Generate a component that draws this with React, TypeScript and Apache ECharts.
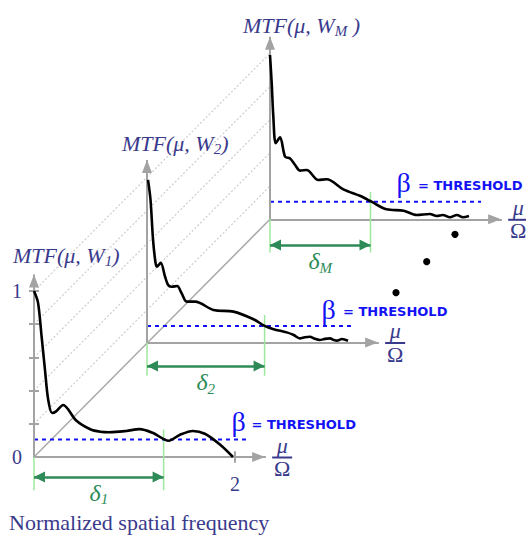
import React, { useEffect, useRef } from 'react';
import * as echarts from 'echarts';

type Pt = [number, number];

// ---------- data (x = μ/Ω normalized spatial frequency, y = MTF) ----------
const curveW1: Pt[] = [[0, 1.0], [0.04, 0.93], [0.075, 0.73], [0.11, 0.52], [0.14, 0.35], [0.18, 0.265], [0.22, 0.275], [0.29, 0.313], [0.42, 0.22], [0.56, 0.167], [0.66, 0.152], [0.75, 0.149], [0.92, 0.157], [1.05, 0.168], [1.18, 0.146], [1.34, 0.098], [1.45, 0.133], [1.58, 0.157], [1.7, 0.14], [1.85, 0.075], [1.98, 0.0]];
const curveW2: Pt[] = [[0.01, 0.98], [0.035, 0.86], [0.06, 0.62], [0.085, 0.48], [0.1, 0.457], [0.136, 0.48], [0.18, 0.396], [0.21, 0.346], [0.245, 0.336], [0.3, 0.34], [0.345, 0.296], [0.395, 0.246], [0.48, 0.246], [0.66, 0.196], [0.86, 0.186], [1.06, 0.14], [1.17, 0.1], [1.26, 0.08], [1.39, 0.061], [1.46, 0.045], [1.52, 0.025], [1.57, 0.032], [1.62, 0.035], [1.67, 0.022], [1.72, 0.015], [1.77, 0.022], [1.82, 0.025], [1.86, 0.015], [1.89, 0.011], [1.94, 0.021], [2.0, 0.011]];
const curveWM: Pt[] = [[0, 0.99], [0.017, 0.82], [0.033, 0.62], [0.057, 0.458], [0.1, 0.494], [0.15, 0.377], [0.2, 0.367], [0.25, 0.327], [0.3, 0.293], [0.365, 0.297], [0.48, 0.237], [0.564, 0.241], [0.73, 0.18], [0.9, 0.14], [1.01, 0.106], [1.16, 0.06], [1.33, 0.052], [1.46, 0.026], [1.59, 0.032], [1.66, 0.02], [1.72, 0.026], [1.79, 0.012], [1.86, 0.026], [1.92, 0.012], [1.98, 0.02]];
const curves: Pt[][] = [curveW1, curveW2, curveWM];
const curveSubs = ['1', '2', 'M'];
const thresholds = [0.106, 0.099, 0.106];
const thresholdEnds = [2.11, 2.05, 2.1];
const deltas = [1.29, 1.17, 1.0];
const yTicks = [0.2, 0.4, 0.6, 0.8, 1];
const yLabels = [0, 1];
const xLabels = [2];

// ---------- layout / style ----------
const PX_X = 100.5;
const PX_Y = 166;
const ORIGINS: Pt[] = [[34, 457], [147, 342.5], [270, 219.3]];
const X_MAX = 2.3;
const Y_MIN = -0.2;
const Y_MAX = 1.1;
const GREEN_TOP = 0.165;
const ARROW_Y = [-0.12, -0.142, -0.155];
const X_TICK_HALF = 0.035;

const AXIS = '#a3a3a3';
const DIAG = '#a9a9a9';
const DOTTED = '#cdcdcd';
const BLUE = '#1212f5';
const GREEN = '#2e8b57';
const LGREEN = '#9ee89e';
const TEXT = '#3a3a8c';
const SERIF = '"Liberation Serif", "Times New Roman", serif';
const SANS = '"DejaVu Sans", Verdana, sans-serif';

const mtfLabelPos: Pt[] = [[13, 255], [122, 143], [243, 25]];
const mtfLabelTail = [')', ')', ' )'];
const betaPos: Pt[] = [[231.5, 421], [321.5, 309], [396.5, 182.5]];
const threshTextPos: Pt[] = [[251.5, 424], [343, 311], [418, 185.5]];
const dotPos: Pt[] = [[396, 292.7], [426.7, 261.7], [455, 234.3]];

export default function App() {
  const ref = useRef<HTMLDivElement>(null);
  useEffect(() => {
    const chart = echarts.init(ref.current!, undefined, { renderer: 'svg' });

    const grid = ORIGINS.map(([ox, oy]) => ({
      left: ox,
      top: oy - Y_MAX * PX_Y,
      width: X_MAX * PX_X,
      height: (Y_MAX - Y_MIN) * PX_Y,
      containLabel: false,
      outerBoundsMode: 'none',
    }));

    const tickStyle = { color: AXIS, width: 2 };
    const xAxis: any[] = ORIGINS.map((_, i) => ({
      type: 'value', gridIndex: i, min: 0, max: X_MAX, position: 'bottom',
      axisLine: { show: true, onZero: true, lineStyle: { color: AXIS, width: 2 }, symbol: ['none', 'triangle'], symbolSize: [10, 13], symbolOffset: [0, -6.5] },
      axisTick: { show: false },
      axisLabel: { show: false },
      splitLine: { show: false },
    }));
    const yAxis: any[] = ORIGINS.map((_, i) => ({
      type: 'value', gridIndex: i, min: Y_MIN, max: Y_MAX, position: 'left',
      axisLine: { show: false, onZero: true },
      axisTick: i === 0 ? { show: true, customValues: yTicks, length: 5, lineStyle: tickStyle } : { show: false },
      axisLabel: i === 0 ? { show: true, customValues: yLabels, margin: 12, color: TEXT, fontFamily: SERIF, fontSize: 20 } : { show: false },
      splitLine: { show: false },
    }));
    yAxis.push({
      type: 'value', gridIndex: 0, min: Y_MIN, max: Y_MAX, position: 'right',
      axisLine: { show: false, onZero: true, onZeroAxisIndex: 0 },
      axisTick: { show: true, customValues: yTicks, length: 5, lineStyle: tickStyle },
      axisLabel: { show: false }, splitLine: { show: false },
    });

    const series: any[] = [];
    ORIGINS.forEach((_, i) => {
      const base = { type: 'line', xAxisIndex: i, yAxisIndex: i, symbol: 'none', silent: true, emphasis: { disabled: true } };
      series.push({
        ...base, data: curves[i], smooth: 0.3, z: 5,
        lineStyle: { color: '#000', width: 2.6 },
        markLine: {
          silent: true, symbol: ['none', 'triangle'], symbolSize: [10, 13], symbolOffset: [[0, 0], [0, 6.5]],
          label: { show: false }, emphasis: { disabled: true },
          lineStyle: { color: AXIS, width: 2, type: 'solid' },
          data: [[{ coord: [0, 0] }, { coord: [0, Y_MAX] }]],
        },
      });
      series.push({
        ...base, data: [[0, thresholds[i]], [thresholdEnds[i], thresholds[i]]], z: 4,
        lineStyle: { color: BLUE, width: 2, type: [4, 4] },
        markLine: i === 0 ? {
          silent: true, symbol: 'none', label: { show: false }, emphasis: { disabled: true },
          lineStyle: { color: AXIS, width: 2, type: 'solid' },
          data: xLabels.map((v) => [{ coord: [v, -X_TICK_HALF] }, { coord: [v, X_TICK_HALF] }]),
        } : undefined,
      });
      series.push({
        ...base, data: [[0, GREEN_TOP], [0, Y_MIN]], z: 3,
        lineStyle: { color: LGREEN, width: 1.5 },
        markLine: {
          silent: true, symbol: ['triangle', 'triangle'], symbolSize: [11, 11], symbolOffset: [[0, 5.5], [0, 5.5]],
          emphasis: { disabled: true },
          lineStyle: { color: GREEN, width: 2.5, type: 'solid' },
          label: {
            show: true, position: 'insideMiddleBottom', distance: 2,
            formatter: `{d|δ}{s|${curveSubs[i]}}`,
            rich: {
              d: { fontSize: 24, fontStyle: 'italic', fontFamily: SERIF, color: GREEN, lineHeight: 28 },
              s: { fontSize: 15, fontStyle: 'italic', fontFamily: SERIF, color: GREEN, lineHeight: 12, verticalAlign: 'bottom' },
            },
          },
          data: [[{ coord: [0, ARROW_Y[i]] }, { coord: [deltas[i], ARROW_Y[i]] }]],
        },
      });
      series.push({
        ...base, data: [[deltas[i], GREEN_TOP], [deltas[i], Y_MIN]], z: 3,
        lineStyle: { color: LGREEN, width: 1.5 },
      });
    });

    chart.setOption({ animation: false, backgroundColor: '#fff', grid, xAxis, yAxis, series });

    const toPx = (i: number, p: Pt) => chart.convertToPixel({ xAxisIndex: i, yAxisIndex: i }, p) as number[];
    const graphic: any[] = [];
    const a = toPx(0, [0, 0]);
    const b = toPx(2, [0, 0]);
    graphic.push({ type: 'line', z: 1, silent: true, shape: { x1: a[0], y1: a[1], x2: b[0], y2: b[1] }, style: { stroke: DIAG, lineWidth: 1.5 } });
    yTicks.forEach((v) => {
      const p = toPx(0, [0, v]);
      const q = toPx(2, [0, v]);
      graphic.push({ type: 'line', z: 1, silent: true, shape: { x1: p[0], y1: p[1], x2: q[0], y2: q[1] }, style: { stroke: DOTTED, lineWidth: 1.2, lineDash: [2, 2] } });
    });
    dotPos.forEach(([x, y]) => graphic.push({ type: 'circle', z: 10, silent: true, shape: { cx: x, cy: y, r: 3.6 }, style: { fill: '#000' } }));

    xLabels.forEach((v) => {
      const p = toPx(0, [v, 0]);
      graphic.push({ type: 'text', z: 10, silent: true, x: p[0], y: p[1] + 27, style: { text: String(v), fontSize: 20, fontFamily: SERIF, fill: TEXT, align: 'center', verticalAlign: 'middle' } });
    });

    ORIGINS.forEach((_, i) => {
      graphic.push({
        type: 'text', z: 10, silent: true, x: mtfLabelPos[i][0], y: mtfLabelPos[i][1],
        style: {
          text: `{a|MTF(μ, W}{b|${curveSubs[i]}}{a|${mtfLabelTail[i]}}`, align: 'left', verticalAlign: 'middle',
          rich: {
            a: { fontSize: 22, fontStyle: 'italic', fontFamily: SERIF, fill: TEXT, lineHeight: 26 },
            b: { fontSize: 15, fontStyle: 'italic', fontFamily: SERIF, fill: TEXT, lineHeight: 11, verticalAlign: 'bottom' },
          },
        },
      });
      graphic.push({
        type: 'text', z: 10, silent: true, x: betaPos[i][0], y: betaPos[i][1],
        style: { text: 'β', fontSize: 28, fontFamily: SERIF, fill: BLUE, align: 'left', verticalAlign: 'middle' },
      });
      graphic.push({
        type: 'text', z: 10, silent: true, x: threshTextPos[i][0], y: threshTextPos[i][1],
        style: { text: '= THRESHOLD', fontSize: 13, fontWeight: 'bold', fontFamily: SANS, fill: BLUE, align: 'left', verticalAlign: 'middle' },
      });
      const tip = toPx(i, [X_MAX, 0]);
      const cx = tip[0] + 17;
      const cy = tip[1];
      graphic.push({ type: 'text', z: 10, silent: true, x: cx, y: cy - 12, style: { text: 'μ', fontSize: 22, fontStyle: 'italic', fontFamily: SERIF, fill: TEXT, align: 'center', verticalAlign: 'middle' } });
      graphic.push({ type: 'line', z: 10, silent: true, shape: { x1: cx - 10, y1: cy + 0.5, x2: cx + 10, y2: cy + 0.5 }, style: { stroke: TEXT, lineWidth: 2 } });
      graphic.push({ type: 'text', z: 10, silent: true, x: cx, y: cy + 11.5, style: { text: 'Ω', fontSize: 22, fontFamily: SERIF, fill: TEXT, align: 'center', verticalAlign: 'middle' } });
    });
    graphic.push({
      type: 'text', z: 10, silent: true, x: 9, y: 522,
      style: { text: 'Normalized spatial frequency', fontSize: 22, fontFamily: SERIF, fill: TEXT, align: 'left', verticalAlign: 'middle' },
    });

    chart.setOption({ graphic });
    return () => chart.dispose();
  }, []);
  return <div ref={ref} style={{ position: 'fixed', left: 0, top: 0, width: 526, height: 536, background: '#fff' }} />;
}
